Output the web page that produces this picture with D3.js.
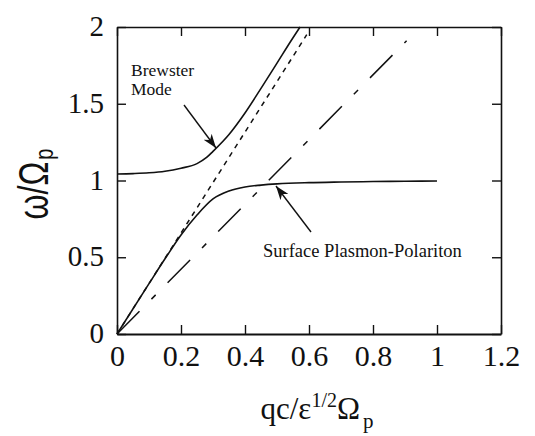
<!DOCTYPE html>
<html>
<head>
<meta charset="utf-8">
<script src="https://cdn.jsdelivr.net/npm/d3@7"></script>
<style>
  body { margin: 0; background: #fff; }
  svg text { fill: #111; }
  .serif { font-family: "Liberation Serif", "Times New Roman", serif; }
  .sans { font-family: "Liberation Sans", Arial, sans-serif; }
</style>
</head>
<body>
<div id="chart"></div>
<script>
// values
var xTicks = [0, 0.2, 0.4, 0.6, 0.8, 1, 1.2];
var xTickLabels = ["0", "0.2", "0.4", "0.6", "0.8", "1", "1.2"];
var yTicks = [0, 0.5, 1, 1.5, 2];
var yTickLabels = ["0", "0.5", "1", "1.5", "2"];

// Brewster mode (upper solid curve)
var brewsterQ = [0, 0.05, 0.1, 0.15, 0.2, 0.25, 0.28, 0.3, 0.35, 0.4, 0.45, 0.5, 0.55, 0.572];
var brewsterW = [1.042, 1.045, 1.05, 1.06, 1.08, 1.11, 1.15, 1.19, 1.30, 1.44, 1.60, 1.765, 1.93, 2.0];

// surface plasmon-polariton (lower solid curve)
var sppQ = [0, 0.1, 0.15, 0.2, 0.25, 0.3, 0.35, 0.4, 0.45, 0.5, 0.6, 0.7, 0.8, 0.9, 1.0];
var sppW = [0, 0.328, 0.49, 0.645, 0.775, 0.88, 0.932, 0.958, 0.97, 0.978, 0.986, 0.99, 0.993, 0.995, 0.997];

// light lines
var dottedQ = [0, 0.593];
var dottedW = [0, 1.95];
var dashedQ = [0, 0.905];
var dashedW = [0, 1.91];

var svgWidth = 535;
var svgHeight = 436;

var margin = { top: 27, right: 34, bottom: 102, left: 117 };
var width = svgWidth - margin.left - margin.right;
var height = svgHeight - margin.top - margin.bottom;

var svg = d3.select("#chart")
    .append("svg")
    .attr("width", svgWidth)
    .attr("height", svgHeight);

var chartGroup = svg.append("g")
    .attr("transform", `translate(${margin.left}, ${margin.top})`);

var x = d3.scaleLinear().domain([0, 1.2]).range([0, width]);
var y = d3.scaleLinear().domain([0, 2]).range([height, 0]);

// arrow head
svg.append("defs").append("marker")
    .attr("id", "head")
    .attr("viewBox", "0 0 14 10")
    .attr("refX", 14)
    .attr("refY", 5)
    .attr("markerWidth", 14)
    .attr("markerHeight", 10)
    .attr("markerUnits", "userSpaceOnUse")
    .attr("orient", "auto")
    .append("path")
    .attr("d", "M0,0 L14,5 L0,10 L4,5 Z")
    .attr("fill", "#111");

// axes (frame with inward ticks)
var bottomAxis = d3.axisBottom(x).tickValues(xTicks)
    .tickFormat((d, i) => xTickLabels[i])
    .tickSizeInner(-9).tickSizeOuter(0).tickPadding(11);
var leftAxis = d3.axisLeft(y).tickValues(yTicks)
    .tickFormat((d, i) => yTickLabels[i])
    .tickSizeInner(-9).tickSizeOuter(0).tickPadding(13);
var topAxis = d3.axisTop(x).tickValues(xTicks).tickFormat("")
    .tickSizeInner(-9).tickSizeOuter(0);
var rightAxis = d3.axisRight(y).tickValues(yTicks).tickFormat("")
    .tickSizeInner(-9).tickSizeOuter(0);

var gx = chartGroup.append("g")
    .attr("transform", `translate(0, ${height})`)
    .call(bottomAxis);
var gy = chartGroup.append("g").call(leftAxis);
var gt = chartGroup.append("g").call(topAxis);
var gr = chartGroup.append("g")
    .attr("transform", `translate(${width}, 0)`)
    .call(rightAxis);

[gx, gy, gt, gr].forEach(function (g) {
    g.attr("font-family", null).attr("font-size", null);
    g.select(".domain").attr("stroke", "#111").attr("stroke-width", 1.6);
    g.selectAll(".tick line").attr("stroke", "#111").attr("stroke-width", 1.4);
});
gx.select(".domain").attr("stroke-width", 2);

gx.selectAll(".tick text")
    .attr("class", "serif")
    .style("font-size", "30px");
gy.selectAll(".tick text")
    .attr("class", "serif")
    .style("font-size", "29px")
    .attr("dy", "0.3em");

// curves
function toPoints(qs, ws) {
    return qs.map((q, i) => [q, ws[i]]);
}

var line = d3.line()
    .x(d => x(d[0]))
    .y(d => y(d[1]))
    .curve(d3.curveMonotoneX);

chartGroup.append("path")
    .datum(toPoints(dottedQ, dottedW))
    .attr("d", line)
    .attr("fill", "none")
    .attr("stroke", "#111")
    .attr("stroke-width", 1.5)
    .attr("stroke-dasharray", "5,5");

chartGroup.append("path")
    .datum(toPoints(dashedQ, dashedW))
    .attr("d", line)
    .attr("fill", "none")
    .attr("stroke", "#111")
    .attr("stroke-width", 1.5)
    .attr("stroke-dasharray", "32,17,6,17");

chartGroup.append("path")
    .datum(toPoints(brewsterQ, brewsterW))
    .attr("d", line)
    .attr("fill", "none")
    .attr("stroke", "#111")
    .attr("stroke-width", 1.6);

chartGroup.append("path")
    .datum(toPoints(sppQ, sppW))
    .attr("d", line)
    .attr("fill", "none")
    .attr("stroke", "#111")
    .attr("stroke-width", 1.6);

// annotations
var note = svg.append("text")
    .attr("class", "serif")
    .style("font-size", "17.5px");
note.append("tspan").attr("x", 131).attr("y", 76).text("Brewster");
note.append("tspan").attr("x", 131).attr("y", 95).text("Mode");

svg.append("line")
    .attr("x1", 184).attr("y1", 105)
    .attr("x2", 216).attr("y2", 148)
    .attr("stroke", "#111").attr("stroke-width", 1.4)
    .attr("marker-end", "url(#head)");

svg.append("text")
    .attr("x", 263).attr("y", 257)
    .attr("class", "serif")
    .style("font-size", "18.5px")
    .text("Surface Plasmon-Polariton");

svg.append("line")
    .attr("x1", 311).attr("y1", 232)
    .attr("x2", 276).attr("y2", 186)
    .attr("stroke", "#111").attr("stroke-width", 1.4)
    .attr("marker-end", "url(#head)");

// axis titles
var xTitle = svg.append("text")
    .attr("x", 317).attr("y", 419)
    .attr("text-anchor", "middle")
    .attr("class", "serif")
    .style("font-size", "31px");
xTitle.append("tspan").text("qc/\u03b5");
xTitle.append("tspan").style("font-size", "20px").attr("dy", -12).text("1/2");
xTitle.append("tspan").attr("dy", 12).text("\u03a9");
xTitle.append("tspan").style("font-size", "21px").attr("dx", 3).attr("dy", 9).text("p");

var yTitle = svg.append("text")
    .attr("transform", "translate(48, 184) rotate(-90) scale(1, 1.3)")
    .attr("text-anchor", "middle")
    .attr("class", "sans")
    .style("font-size", "32px");
yTitle.append("tspan").text("\u03c9/\u03a9");
yTitle.append("tspan").style("font-size", "20px").attr("dx", 2).attr("dy", 4).text("p");
</script>
</body>
</html>
